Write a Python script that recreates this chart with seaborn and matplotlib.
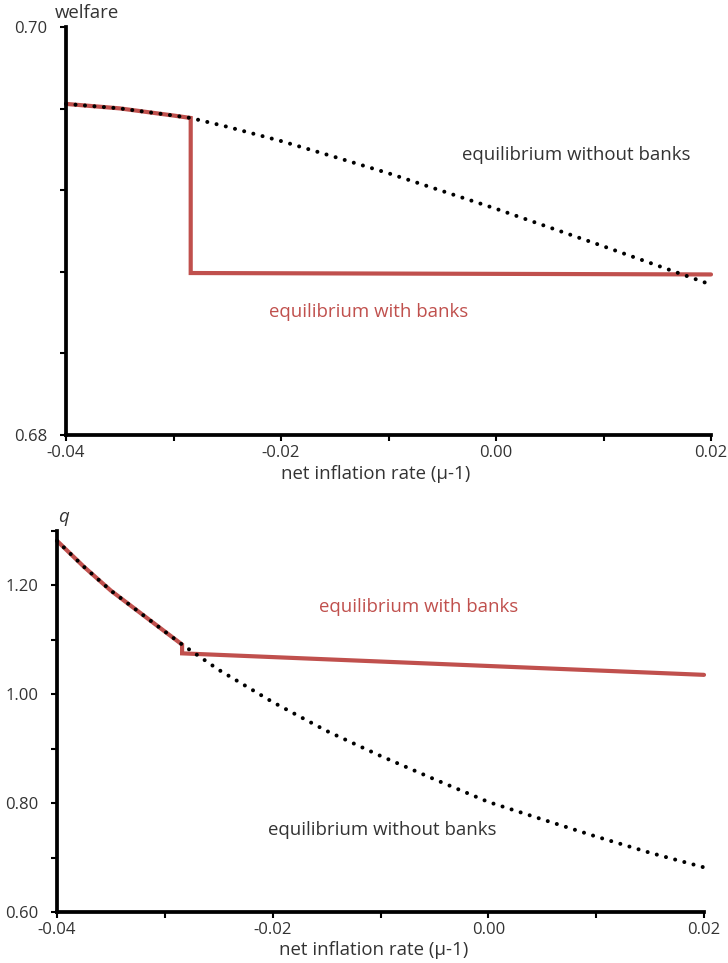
import matplotlib
matplotlib.use("Agg")
import matplotlib.pyplot as plt
import seaborn as sns

# ---- data -------------------------------------------------------------
# net inflation rate grid (mu - 1)
inflation = [-0.04, -0.035, -0.03, -0.0284, -0.025, -0.02, -0.015, -0.01,
             -0.005, 0.0, 0.005, 0.01, 0.015, 0.02]
welfare_no_banks = [0.69623, 0.69601, 0.69566, 0.69554, 0.69511, 0.69441,
                    0.69363, 0.69283, 0.69196, 0.69109, 0.69017, 0.68925,
                    0.68831, 0.68737]

# with banks: coincides with the no-bank path until the switch, then drops
inflation_banks_w = [-0.04, -0.035, -0.03, -0.0284, -0.0284, 0.02]
welfare_banks = [0.69623, 0.69601, 0.69566, 0.69554, 0.68794, 0.68787]

inflation_q = [-0.04, -0.0375, -0.035, -0.03, -0.0284, -0.025, -0.02, -0.015,
               -0.01, -0.005, 0.0, 0.005, 0.01, 0.015, 0.02]
q_no_banks = [1.2820, 1.2342, 1.1904, 1.1153, 1.0914, 1.0449, 0.9857, 0.9327,
              0.8868, 0.8439, 0.8022, 0.7702, 0.7386, 0.7088, 0.6820]

inflation_banks_q = [-0.04, -0.0375, -0.035, -0.03, -0.0284, -0.0284, 0.0, 0.02]
q_banks = [1.2820, 1.2342, 1.1904, 1.1153, 1.0914, 1.0752, 1.0520, 1.0357]

x_ticks = [-0.04, -0.03, -0.02, -0.01, 0.0, 0.01, 0.02]
x_tick_labels = ["-0.04", "", "-0.02", "", "0.00", "", "0.02"]
welfare_ticks = [0.680, 0.684, 0.688, 0.692, 0.696, 0.700]
welfare_tick_labels = ["0.68", "", "", "", "", "0.70"]
q_ticks = [0.6, 0.7, 0.8, 0.9, 1.0, 1.1, 1.2, 1.3]
q_tick_labels = ["0.60", "", "0.80", "", "1.00", "", "1.20", ""]

# ---- style ------------------------------------------------------------
sns.set_style("ticks")
plt.rcParams["font.family"] = ["Open Sans", "DejaVu Sans"]

RED = "#C0504D"
TEXT = "#333333"
FS_TICK = 12
FS = 13.4

fig = plt.figure(figsize=(7.28, 9.63), dpi=100)
ax1 = fig.add_axes([66 / 728, 1 - 435 / 963, 645 / 728, 408 / 963])
ax2 = fig.add_axes([57 / 728, 1 - 912 / 963, 647 / 728, 381 / 963])


def draw_pair(ax, xb, yb, xn, yn):
    sns.lineplot(x=xb, y=yb, ax=ax, color=RED, linewidth=3.0, sort=False,
                 estimator=None, zorder=2, solid_joinstyle="miter")
    sns.lineplot(x=xn, y=yn, ax=ax, color="black", linewidth=2.9, sort=False,
                 estimator=None, zorder=3)
    dotted = ax.lines[-1]
    dotted.set_linestyle((0, (0.01, 2.35)))
    dotted.set_dash_capstyle("round")


def style_axes(ax, yticks, ylabels, ylim):
    sns.despine(ax=ax)
    for side in ("left", "bottom"):
        ax.spines[side].set_linewidth(2.7)
        ax.spines[side].set_color("black")
    ax.set_xlim(-0.04, 0.02)
    ax.set_ylim(*ylim)
    ax.set_xticks(x_ticks)
    ax.set_xticklabels(x_tick_labels)
    ax.set_yticks(yticks)
    ax.set_yticklabels(ylabels)
    ax.tick_params(axis="both", direction="out", length=4.5, width=1.5,
                   color="black", labelsize=FS_TICK, labelcolor=TEXT)
    ax.tick_params(axis="x", pad=3)
    ax.tick_params(axis="y", pad=9)
    ax.set_xlabel("net inflation rate (\u03bc-1)", fontsize=FS, color=TEXT,
                  va="center")
    ax.set_ylabel("")


# welfare panel
draw_pair(ax1, inflation_banks_w, welfare_banks, inflation, welfare_no_banks)
style_axes(ax1, welfare_ticks, welfare_tick_labels, (0.68, 0.70))
ax1.xaxis.set_label_coords(0.48, -(474 - 435) / 408)
ax1.text(-0.017, 1.034, "welfare", transform=ax1.transAxes, fontsize=FS,
         color=TEXT, ha="left", va="center")
ax1.text(0.00744, 0.69373, "equilibrium without banks", fontsize=FS,
         color=TEXT, ha="center", va="center")
ax1.text(-0.01186, 0.68603, "equilibrium with banks", fontsize=FS,
         color=RED, ha="center", va="center")

# q panel
draw_pair(ax2, inflation_banks_q, q_banks, inflation_q, q_no_banks)
style_axes(ax2, q_ticks, q_tick_labels, (0.6, 1.3))
ax2.xaxis.set_label_coords(0.49, -(950 - 912) / 381)
ax2.text(0.002, 1.037, "q", transform=ax2.transAxes, fontsize=FS,
         color=TEXT, ha="left", va="center", style="italic")
ax2.text(-0.00643, 1.1607, "equilibrium with banks", fontsize=FS,
         color=RED, ha="center", va="center")
ax2.text(-0.00981, 0.7507, "equilibrium without banks", fontsize=FS,
         color=TEXT, ha="center", va="center")

for ax in (ax1, ax2):
    for line in ax.lines:
        line.set_clip_on(False)

fig.savefig("out.png", dpi=100)
